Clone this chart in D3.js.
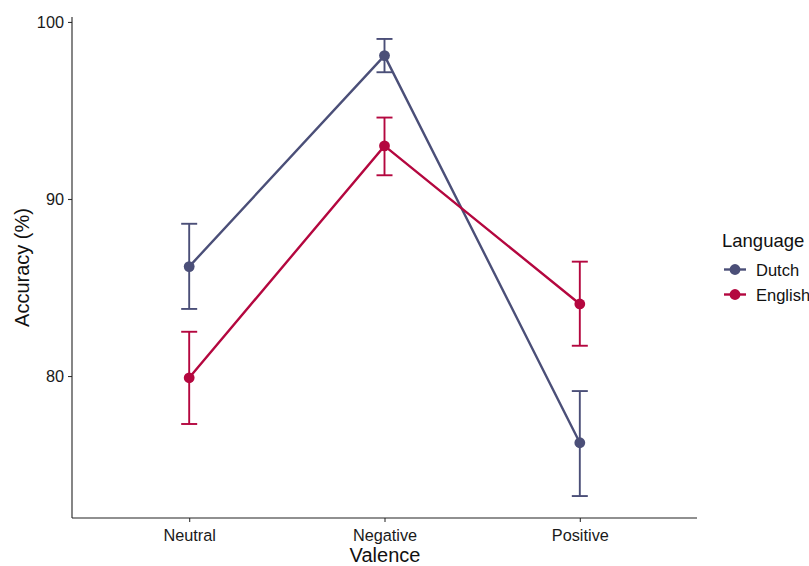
<!DOCTYPE html>
<html><head><meta charset="utf-8">
<script src="https://cdn.jsdelivr.net/npm/d3@7"></script>
<style>body{margin:0;background:#fff}svg{display:block}text{font-family:Arial,"Liberation Sans",sans-serif}</style>
</head><body>
<svg id="c" width="809" height="566"></svg>
<script>
const categories = ["Neutral", "Negative", "Positive"];
const languages = ["Dutch", "English"];
const dutchMean = [86.18, 98.1, 76.23];
const dutchLow  = [83.79, 97.16, 73.22];
const dutchHigh = [88.6, 99.04, 79.15];
const englishMean = [79.9, 93.0, 84.07];
const englishLow  = [77.29, 91.34, 81.71];
const englishHigh = [82.5, 94.6, 86.46];
const yTicks = [80, 90, 100];
const colors = {Dutch: "#4b4f78", English: "#b4073f"};

const series = [
  {name: "Dutch", mean: dutchMean, low: dutchLow, high: dutchHigh},
  {name: "English", mean: englishMean, low: englishLow, high: englishHigh}
];

const svg = d3.select("#c");
const L = 72, R = 697, T = 17, B = 518;

// discrete axis with 0.6 expansion on each side
const x = d3.scalePoint().domain(categories)
  .range([L + (R - L) * 0.6 / 3.2, R - (R - L) * 0.6 / 3.2]).padding(0);

const y = d3.scaleLinear().domain([71.98, 100.28]).range([B, T]);

// Axes
const gx = svg.append("g").attr("transform", `translate(0,${B})`)
  .call(d3.axisBottom(x).tickSize(4).tickPadding(4));
const gy = svg.append("g").attr("transform", `translate(${L},0)`)
  .call(d3.axisLeft(y).tickValues(yTicks).tickSize(4).tickPadding(4));
[gx, gy].forEach(g => {
  g.select(".domain").remove();
  g.selectAll(".tick line").attr("stroke", "#333").attr("stroke-width", 1.1);
  g.selectAll(".tick text").attr("fill", "#1a1a1a").style("font-size", "16.3px");
});
gx.selectAll(".tick text").attr("dy", "0.9em");
gy.selectAll(".tick text").attr("dy", "0.36em");
svg.append("line").attr("x1", L).attr("x2", R).attr("y1", B).attr("y2", B).attr("stroke", "#222").attr("stroke-width", 1.1);
svg.append("line").attr("x1", L).attr("x2", L).attr("y1", T).attr("y2", B).attr("stroke", "#222").attr("stroke-width", 1.1);

// Axis titles
svg.append("text").attr("x", (L + R) / 2 + 0.5).attr("y", 562).attr("text-anchor", "middle")
  .style("font-size", "20px").attr("fill", "#111").text("Valence");
svg.append("text").attr("transform", `translate(29,${(T + B) / 2}) rotate(-90)`)
  .attr("text-anchor", "middle").style("font-size", "20px").attr("fill", "#111").text("Accuracy (%)");

const capW = 8;
series.forEach(s => {
  const c = colors[s.name];
  const g = svg.append("g");
  // error bars
  categories.forEach((cat, i) => {
    const cx = x(cat);
    g.append("line").attr("x1", cx).attr("x2", cx).attr("y1", y(s.low[i])).attr("y2", y(s.high[i]))
      .attr("stroke", c).attr("stroke-width", 1.9);
    [s.low[i], s.high[i]].forEach(v => {
      g.append("line").attr("x1", cx - capW).attr("x2", cx + capW).attr("y1", y(v)).attr("y2", y(v))
        .attr("stroke", c).attr("stroke-width", 1.9);
    });
  });
  // line
  g.append("path").datum(categories.map((cat, i) => [x(cat), y(s.mean[i])]))
    .attr("d", d3.line()).attr("fill", "none").attr("stroke", c).attr("stroke-width", 2.4);
  // points
  g.selectAll("circle").data(s.mean).join("circle")
    .attr("cx", (d, i) => x(categories[i])).attr("cy", d => y(d)).attr("r", 5.4).attr("fill", c);
});

// Legend
const lg = svg.append("g");
lg.append("text").attr("x", 722).attr("y", 246.5).style("font-size", "18.5px").attr("fill", "#111").text("Language");
languages.forEach((name, i) => {
  const yy = 269.5 + i * 25;
  const c = colors[name];
  lg.append("line").attr("x1", 724).attr("x2", 746).attr("y1", yy).attr("y2", yy).attr("stroke", c).attr("stroke-width", 2.4);
  lg.append("circle").attr("cx", 735).attr("cy", yy).attr("r", 5.4).attr("fill", c);
  lg.append("text").attr("x", 756).attr("y", yy + 6).style("font-size", "16.5px").attr("fill", "#111").text(name);
});
</script>
</body></html>
